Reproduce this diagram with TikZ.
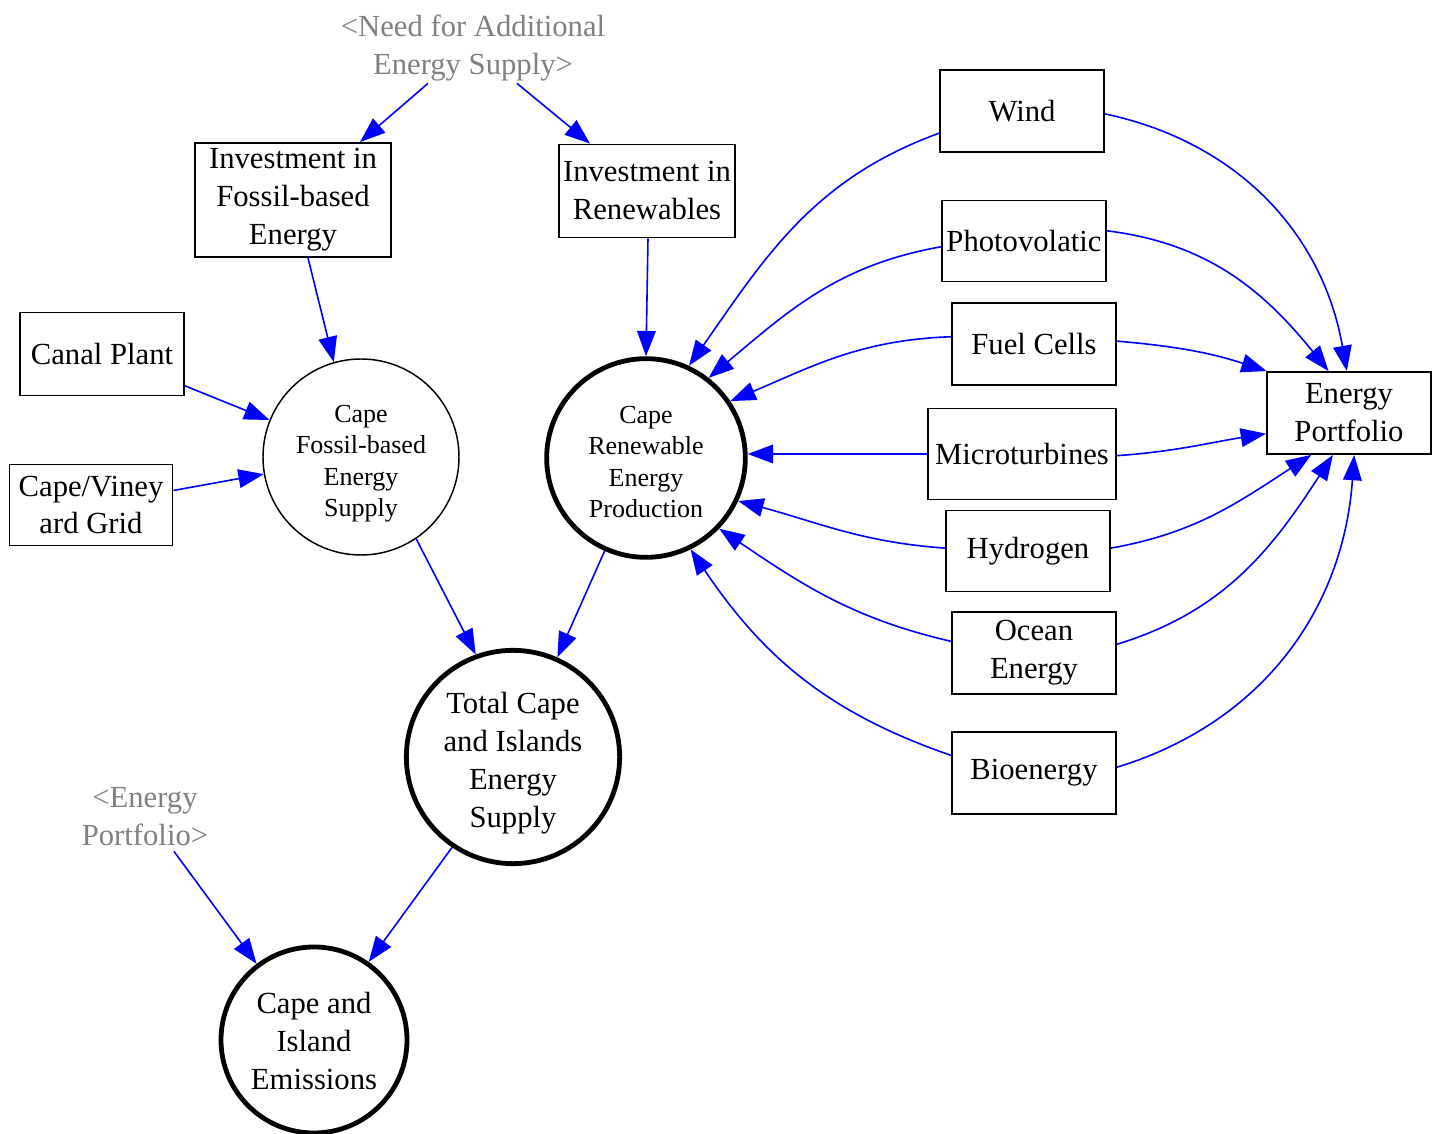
\documentclass[tikz,border=0pt]{standalone}
\usepackage{fontspec}
\setmainfont{Liberation Serif}
\usetikzlibrary{arrows.meta,calc}
\definecolor{lblgray}{RGB}{128,128,128}
\tikzset{
  box/.style={draw,line width=1.4pt,inner sep=0pt,minimum width=123pt,minimum height=61.5pt,align=center,font=\fontsize{23}{28.5}\selectfont},
  thincirc/.style={draw,circle,line width=1.1pt,inner sep=0pt,minimum size=147pt},
  thickcirc/.style={draw,circle,line width=3.6pt,inner sep=0pt},
  smalltxt/.style={align=center,font=\fontsize{19.5}{23.5}\selectfont},
  bigtxt/.style={align=center,font=\fontsize{23}{28.5}\selectfont},
  ghost/.style={inner sep=0pt,align=center,text=lblgray,font=\fontsize{23}{28.5}\selectfont},
  link/.style={draw=blue,line width=1.2pt,-{Triangle[length=19pt,width=14pt]}}
}
\begin{document}
\begin{tikzpicture}[x=0.75pt,y=0.75pt]
\useasboundingbox (0,0) rectangle (1440,1133);
% nodes
\node[ghost] (need) at (473,1085) {<Need for Additional\\Energy Supply>};
\node[box,minimum width=147pt,minimum height=85.5pt] (invf) at (293,933) {Investment in\\Fossil-based\\Energy};
\node[box,minimum width=132pt,minimum height=69.75pt] (invr) at (647,942) {Investment in\\Renewables};
\node[box,minimum height=62.25pt] (canal) at (102,779) {Canal Plant};
\node[box,minimum width=122.25pt,minimum height=60.75pt] (grid) at (91,628) {Cape/Viney\\ard Grid};
\node[thincirc,label={[smalltxt,yshift=-5pt]center:{Cape\\Fossil-based\\Energy\\Supply}}] (fossil) at (361,676) {};
\node[thickcirc,minimum size=149pt,label={[smalltxt,yshift=-3pt]center:{Cape\\Renewable\\Energy\\Production}}] (renew) at (646,675) {};
\node[thickcirc,minimum size=160pt,label={[bigtxt,yshift=-4.5pt]center:{Total Cape\\and Islands\\Energy\\Supply}}] (total) at (513,376) {};
\node[thickcirc,minimum size=139.5pt,label={[bigtxt,yshift=-0.8pt]center:{Cape and\\Island\\Emissions}}] (emis) at (314,93) {};
\node[ghost] (eport) at (145,316) {<Energy\\Portfolio>};
\node[box] (wind) at (1022,1022) {Wind};
\node[box,minimum height=60.75pt] (photo) at (1024,892) {Photovolatic};
\node[box] (fuel) at (1034,789) {Fuel Cells};
\node[box,minimum width=141pt,minimum height=68.25pt] (micro) at (1022,679) {Microturbines};
\node[box,minimum height=60.75pt] (hydro) at (1028,582) {Hydrogen};
\node[box] (ocean) at (1034,480) {Ocean\\Energy};
\node[box] (bio) at (1034,360) {Bioenergy};
\node[box] (port) at (1349,720) {Energy\\Portfolio};
% straight links
\draw[link] ($(need.south)+(-45,-2)$) -- ($(invf.north)+(67,0)$);
\draw[link] ($(need.south)+(44,-2)$) -- ($(invr.north)+(-57,0)$);
\draw[link] ($(invf.south)+(15,0)$) -- (fossil.106);
\draw[link] ($(invr.south)+(1,0)$) -- (renew.north);
\draw[link] (canal.339) -- (fossil.158);
\draw[link] (grid.10) -- (fossil.190);
\draw[link] (fossil.304) -- (total.110);
\draw[link] (renew.246) -- (total.66);
\draw[link] (total.236) -- (emis.55);
\draw[link] ($(eport.south)+(29,-5)$) -- (emis.127);
% into renewables
\draw[link] (wind.195) to[out=200,in=55] (renew.65);
\draw[link] (photo.184) to[out=190,in=40] (renew.52);
\draw[link] (fuel.175) to[out=182,in=23] (renew.34);
\draw[link] (micro.west) -- (micro.west -| renew.east);
\draw[link] (hydro.178) to[out=176,in=345] (renew.335);
\draw[link] (ocean.172) to[out=167,in=326] (renew.316);
\draw[link] (bio.168) to[out=161,in=304] (renew.296);
% into portfolio
\draw[link] (wind.358) to[out=-12,in=100] (port.93);
\draw[link] (photo.7) to[out=-7,in=129] (port.116);
\draw[link] (fuel.2) to[out=-5,in=162] (port.153);
\draw[link] (micro.359) to[out=4,in=189] (port.194);
\draw[link] (hydro.2) to[out=10,in=213] (port.228);
\draw[link] (ocean.6) to[out=17,in=237] (port.249);
\draw[link] (bio.4) to[out=17,in=266] (port.277);
\end{tikzpicture}
\end{document}
